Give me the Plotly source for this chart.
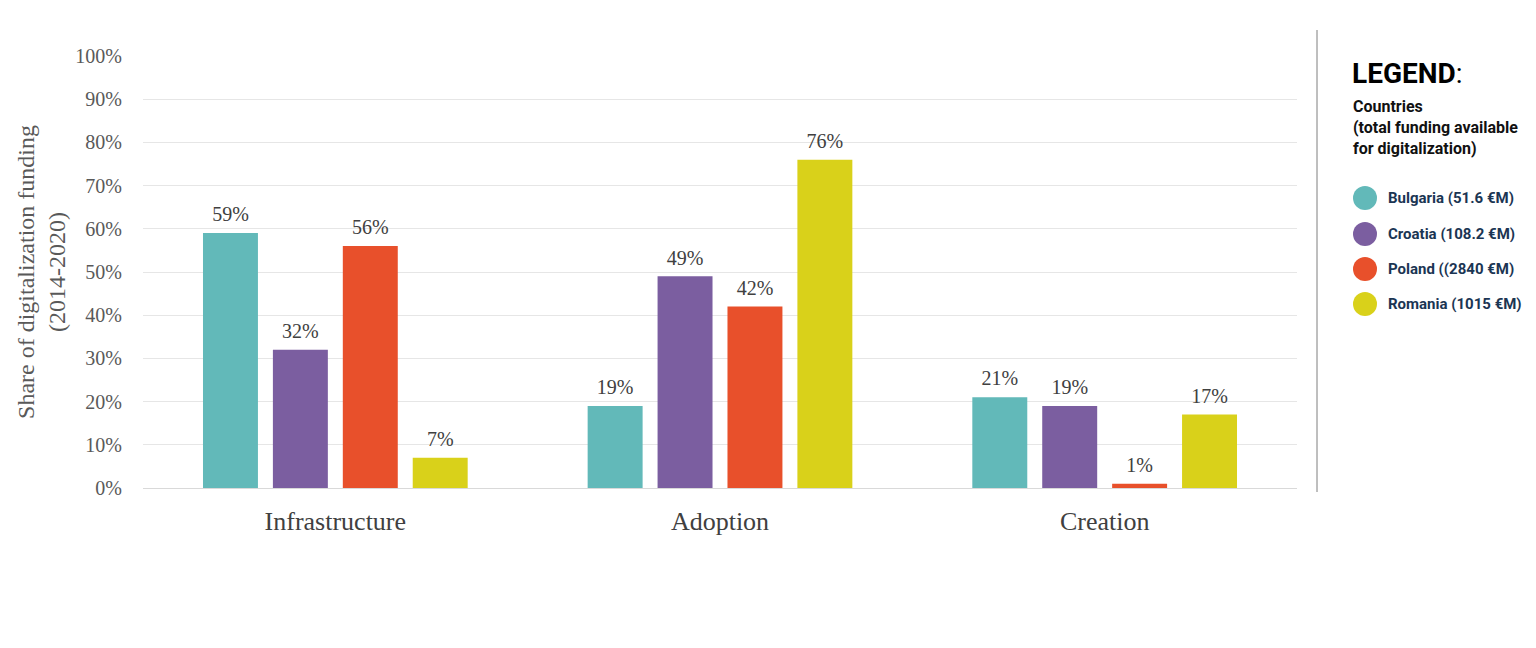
import plotly.graph_objects as go

categories = ["Infrastructure", "Adoption", "Creation"]
countries = ["Bulgaria (51.6 €M)", "Croatia (108.2 €M)", "Poland ((2840 €M)", "Romania (1015 €M)"]
bulgaria = [59, 19, 21]
croatia = [32, 49, 19]
poland = [56, 42, 1]
romania = [7, 76, 17]
colors = ["#62B9B9", "#7B5EA0", "#E8502B", "#D9D11A"]
y_ticks = list(range(0, 101, 10))

series = [bulgaria, croatia, poland, romania]

OFF = 8  # page body margin
W, H = 1536 - OFF, 648 - OFF
L, R, T, B = 143 - OFF, 1297 - OFF, 56 - OFF, 488 - OFF

def px(x):
    return (x - OFF - L) / (R - L)

def py(y):
    return (B - (y - OFF)) / (B - T)

SERIF = "Liberation Serif, DejaVu Serif, serif"
NARROW = "Liberation Sans Narrow, Roboto, Arial Narrow, sans-serif"

fig = go.Figure()
for name, vals, col in zip(countries, series, colors):
    fig.add_trace(go.Bar(
        x=categories, y=vals, name=name, marker_color=col,
        marker_line_width=0,
        text=[f"<span style='font-size:20px'>{v}%</span><br> " for v in vals],
        textposition="outside",
        textfont=dict(family=SERIF, size=6, color="#404040"),
        cliponaxis=False, showlegend=False,
    ))

shapes = [dict(type="line", xref="paper", yref="paper",
               x0=px(1317), x1=px(1317), y0=py(30), y1=py(492),
               line=dict(color="#7f7f7f", width=1))]
annotations = [
    dict(text="<b>LEGEND</b>:", xref="paper", yref="paper", x=px(1350), y=py(73),
         xanchor="left", yanchor="middle", showarrow=False,
         font=dict(family=NARROW, size=28, color="#000000")),
    dict(text="<b>Countries<br>(total funding available<br>for digitalization)</b>",
         xref="paper", yref="paper", x=px(1351), y=py(128),
         xanchor="left", yanchor="middle", showarrow=False, align="left",
         font=dict(family=NARROW, size=16, color="#111111")),
]
legend_y = [198, 234, 269, 304]
for name, col, ly in zip(countries, colors, legend_y):
    shapes.append(dict(type="circle", xref="paper", yref="paper",
                       x0=px(1353), x1=px(1377), y0=py(ly + 12), y1=py(ly - 12),
                       fillcolor=col, line=dict(width=0)))
    annotations.append(dict(text=f"<b>{name}</b>", xref="paper", yref="paper",
                            x=px(1386), y=py(ly), xanchor="left", yanchor="middle",
                            showarrow=False,
                            font=dict(family=NARROW, size=15, color="#1B3553")))

fig.update_layout(
    width=W, height=H,
    margin=dict(l=L, r=W - R, t=T, b=H - B, pad=0),
    paper_bgcolor="white", plot_bgcolor="white",
    barmode="group", bargap=0.273, bargroupgap=0.214,
    shapes=shapes, annotations=annotations,
    xaxis=dict(showgrid=False, showline=True, linecolor="#d9d9d9", linewidth=1,
               ticks="", ticklabelstandoff=10,
               tickfont=dict(family=SERIF, size=26, color="#404040")),
    yaxis=dict(range=[0, 100], tickvals=y_ticks, ticktext=[f"{v}%" for v in y_ticks],
               showgrid=True, gridcolor="#e6e6e6", gridwidth=1, zeroline=False,
               showline=False, ticks="", ticklabelstandoff=20,
               tickfont=dict(family=SERIF, size=20, color="#595959"),
               title=dict(text="Share of digitalization funding<br>(2014-2020)",
                          font=dict(family=SERIF, size=24, color="#595959"),
                          standoff=2)),
)
fig.write_html("out.html")
